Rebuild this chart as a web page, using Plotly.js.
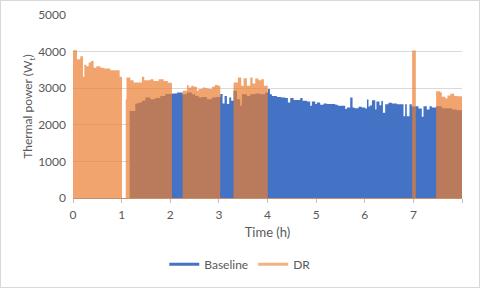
<!DOCTYPE html>
<html>
<head>
<meta charset="utf-8">
<script src="https://cdn.plot.ly/plotly-3.0.1.min.js"></script>
<style>
html,body{margin:0;padding:0;background:#fff;}
#frame{position:absolute;left:0;top:0;width:480px;height:288px;box-sizing:border-box;border:1px solid #D9D9D9;background:#fff;}
#chart{width:478px;height:286px;}
</style>
</head>
<body>
<div id="frame"><div id="chart"></div></div>
<script>
// Time (h) breakpoints and thermal power (W) for the Baseline series
const baseTime = [0, 1.165, 1.281, 1.350, 1.418, 1.487, 1.590, 1.692, 1.795, 1.898, 2.035, 2.138, 2.254, 2.343, 2.446, 2.515, 2.583, 2.652, 2.754, 2.857, 2.926, 3.028, 3.076, 3.117, 3.165, 3.213, 3.254, 3.302, 3.371, 3.439, 3.474, 3.576, 3.645, 3.748, 3.850, 3.953, 4.009, 4.050, 4.091, 4.194, 4.283, 4.365, 4.420, 4.468, 4.536, 4.673, 4.721, 4.810, 4.879, 4.913, 4.982, 5.016, 5.084, 5.153, 5.221, 5.393, 5.447, 5.598, 5.632, 5.701, 5.749, 5.790, 5.872, 5.940, 6.009, 6.045, 6.077, 6.112, 6.148, 6.216, 6.240, 6.303, 6.340, 6.374, 6.420, 6.488, 6.557, 6.660, 6.797, 6.831, 6.865, 6.920, 6.968, 7.057, 7.105, 7.173, 7.208, 7.276, 7.331, 7.379, 7.468, 7.584, 7.790, 7.893, 8.0];
const basePower = [0, 2380, 2580, 2610, 2655, 2745, 2700, 2730, 2790, 2840, 2855, 2880, 2835, 2880, 2835, 2790, 2745, 2760, 2700, 2745, 2760, 2840, 2580, 2790, 2565, 2745, 2655, 2930, 2700, 2520, 2835, 2790, 2835, 2855, 2835, 2880, 2975, 2835, 2790, 2760, 2745, 2730, 2610, 2730, 2675, 2730, 2655, 2640, 2520, 2640, 2565, 2610, 2545, 2580, 2565, 2545, 2520, 2430, 2475, 2745, 2475, 2455, 2490, 2470, 2445, 2690, 2500, 2535, 2672, 2420, 2640, 2535, 2650, 2330, 2560, 2600, 2581, 2563, 2236, 2563, 2236, 2563, 2500, 2510, 2445, 2218, 2508, 2418, 2508, 2472, 2510, 2450, 2420, 2400, 2400];

// Time (h) breakpoints and thermal power (W) for the DR series
const drTime = [0, 0.082, 0.150, 0.205, 0.232, 0.274, 0.322, 0.370, 0.424, 0.479, 0.561, 0.630, 0.767, 0.959, 1.007, 1.085, 1.100, 1.178, 1.247, 1.418, 1.466, 1.590, 1.658, 1.761, 1.864, 1.950, 2.035, 2.254, 2.343, 2.377, 2.432, 2.480, 2.549, 2.583, 2.665, 2.720, 2.789, 2.857, 2.912, 2.980, 3.028, 3.302, 3.391, 3.460, 3.508, 3.576, 3.645, 3.693, 3.748, 3.816, 3.871, 3.926, 4.005, 6.975, 7.050, 7.468, 7.550, 7.584, 7.660, 7.700, 7.760, 7.840, 7.900, 8.0];
const drPower = [4040, 3790, 3870, 3310, 3640, 3600, 3700, 3745, 3560, 3600, 3560, 3540, 3490, 3310, 0, 2700, 3290, 3220, 3155, 3310, 3220, 3245, 3200, 3245, 3200, 3150, 0, 2930, 3090, 3020, 3065, 3040, 2930, 2975, 3020, 3000, 2975, 3040, 3090, 3065, 0, 3155, 3290, 3065, 3270, 3065, 3290, 3130, 3265, 3220, 3245, 3065, 0, 4030, 0, 2917, 2890, 2763, 2720, 2800, 2850, 2790, 2780, 2780];

const seriesNames = ['Baseline', 'DR'];
const xTickVals = [0, 1, 2, 3, 4, 5, 6, 7];
const xTickText = ['0', '1', '2', '3', '4', '5', '6', '7'];

const BLUE = '#4472C4';
const ORANGE = '#ED7D31';
const FONT = 'Lato, "Open Sans", sans-serif';
const GREY = '#595959';

const traces = [
  {x: baseTime, y: basePower, type: 'scatter', mode: 'lines', line: {shape: 'hv', width: 0, color: BLUE},
   fill: 'tozeroy', fillcolor: BLUE, showlegend: false, hoverinfo: 'skip'},
  {x: drTime, y: drPower, type: 'scatter', mode: 'lines', line: {shape: 'hv', width: 0, color: ORANGE},
   fill: 'tozeroy', fillcolor: 'rgba(237,125,49,0.7)', showlegend: false, hoverinfo: 'skip'},
  {x: [null], y: [null], type: 'scatter', mode: 'lines', name: seriesNames[0], line: {color: BLUE, width: 3}},
  {x: [null], y: [null], type: 'scatter', mode: 'lines', name: seriesNames[1], line: {color: '#F4B183', width: 3}}
];

const layout = {
  width: 478, height: 286,
  margin: {l: 72, r: 17, t: 14, b: 89, autoexpand: false},
  paper_bgcolor: '#fff', plot_bgcolor: '#fff',
  font: {family: FONT, size: 12, color: GREY},
  showlegend: true,
  legend: {orientation: 'h', x: 0.43, xanchor: 'center', y: -0.362, yanchor: 'middle',
           font: {family: FONT, size: 12, color: GREY}, itemwidth: 30, tracegroupgap: 0},
  xaxis: {range: [0, 8], automargin: false, tickmode: 'array', tickvals: xTickVals, ticktext: xTickText, showgrid: false, zeroline: false,
          showline: true, linecolor: '#C8906E', linewidth: 1, ticks: 'outside', ticklen: 4, tickcolor: '#BFBFBF',
          minor: {tickmode: 'array', tickvals: [8], ticks: 'outside', ticklen: 4, tickcolor: '#BFBFBF', showgrid: false},
          ticklabelstandoff: 2,
          tickfont: {family: FONT, size: 12, color: GREY},
          title: {text: 'Time (h)', font: {family: FONT, size: 13, color: GREY}, standoff: 6}},
  yaxis: {range: [0, 5000], automargin: false, dtick: 1000, showgrid: true, gridcolor: '#D9D9D9', gridwidth: 1, zeroline: false,
          showline: false, ticks: '', ticklabelstandoff: 6, tickfont: {family: FONT, size: 12, color: GREY},
          title: {text: 'Thermal power (W<sub>t</sub>)', font: {family: FONT, size: 12, color: GREY}, standoff: 2}}
};

Plotly.newPlot('chart', traces, layout, {staticPlot: true, displayModeBar: false});
</script>
</body>
</html>
